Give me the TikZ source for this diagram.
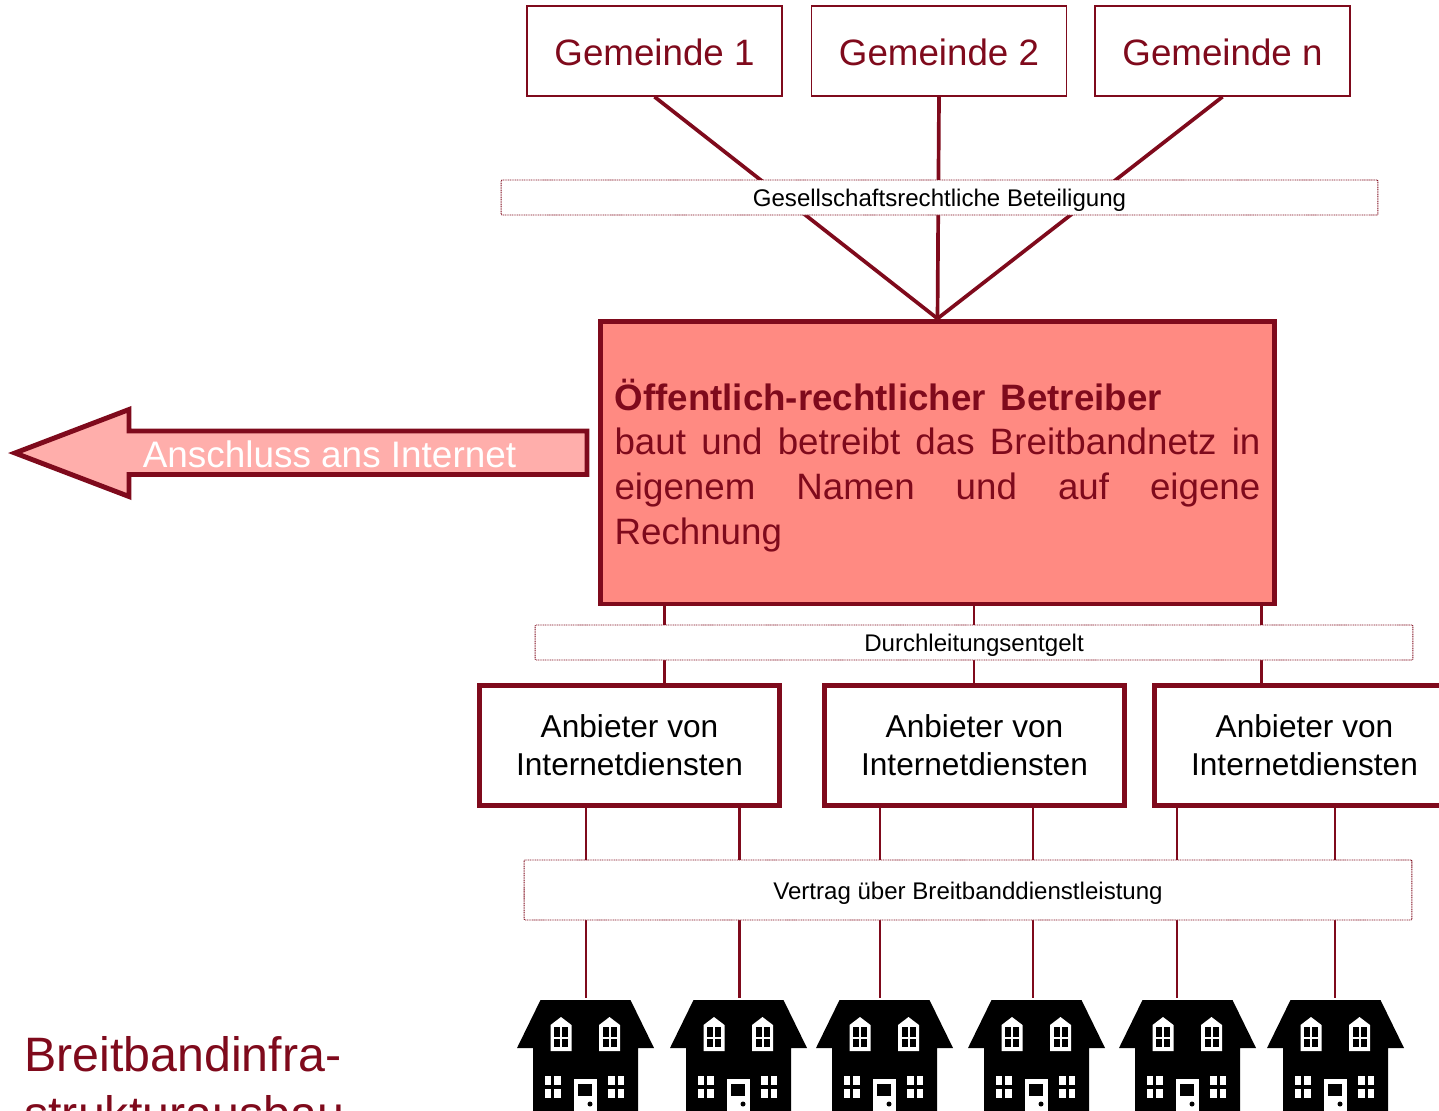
\documentclass[tikz,border=0pt]{standalone}
\usepackage{fontspec}
\setmainfont{Liberation Sans}
\definecolor{darkred}{HTML}{7F0A1C}
\definecolor{betreiberred}{HTML}{FF8A82}
\definecolor{arrowred}{HTML}{FFAEAB}
\tikzset{
    gemeinde/.style={draw=darkred, line width=0.9pt, fill=white, text=darkred, minimum width=5.1cm, minimum height=1.8cm, text height=16.6pt, text depth=0pt, font=\fontsize{20.9}{25}\selectfont},
    anbieter/.style={draw=darkred, line width=2.6pt, fill=white, minimum width=6cm, minimum height=2.4cm, align=center, execute at begin node={\rule{0pt}{14.3pt}}, font=\fontsize{18}{21.5}\selectfont},
    band/.style={draw=darkred, dash pattern=on 0.6pt off 0.4pt, line width=0.5pt, fill=white, rounded corners=0.5pt, inner ysep=0pt, text height=13.2pt, text depth=2.9pt, font=\fontsize{13.7}{16}\selectfont},
    link/.style={draw=darkred, line width=1.6pt},
    stem/.style={draw=darkred, line width=2.1pt},
    pics/house/.style={code={
        \fill[black] (-45,0) -- (45,0) -- (68.5,48) -- (52.5,48) -- (52.5,115) -- (-52.5,115) -- (-52.5,48) -- (-68.5,48) -- cycle;
        \coordinate (-top) at (0,-2);
        \foreach \dx in {-24.5,24} {
            \fill[white] (\dx-10.5,51) -- (\dx-10.5,25) -- (\dx,17) -- (\dx+10.5,25) -- (\dx+10.5,51) -- cycle;
            \fill[black] (\dx-7,27) rectangle (\dx-1,37);
            \fill[black] (\dx+1,27) rectangle (\dx+7,37);
            \fill[black] (\dx-7,39) rectangle (\dx-1,47);
            \fill[black] (\dx+1,39) rectangle (\dx+7,47);
        }
        \foreach \dx in {-33,30.5} {
            \fill[white] (\dx-8,76) rectangle (\dx-1.5,85);
            \fill[white] (\dx+1.5,76) rectangle (\dx+8,85);
            \fill[white] (\dx-8,89) rectangle (\dx-1.5,98);
            \fill[white] (\dx+1.5,89) rectangle (\dx+8,98);
        }
        \fill[white] (-12,79) rectangle (11,115);
        \fill[black] (-7.5,84) rectangle (6,96);
        \fill[black] (4.5,104) circle (2.5);
    }}
}
\begin{document}
\begin{tikzpicture}[x=0.02cm, y=-0.02cm]
    \clip (0,0) rectangle (1439,1110);

    \node[gemeinde] (g1) at (654.5,51) {Gemeinde 1};
    \node[gemeinde] (g2) at (939,51) {Gemeinde 2};
    \node[gemeinde] (gn) at (1222.5,51) {Gemeinde n};
    \node[draw=darkred, line width=2.8pt, fill=betreiberred, text=darkred, minimum width=13.5cm, minimum height=5.66cm, text width=12.92cm, inner xsep=0.29cm, align=justify, font=\fontsize{20.9}{25.4}\selectfont] (betreiber) at (937.5,462.5)
        {\sloppy\rule{0pt}{21pt}\textbf{Öffentlich-rechtlicher\hspace{0.4em}Betreiber}\\ baut und betreibt das Breitbandnetz in\linebreak eigenem Namen und auf eigene\linebreak Rechnung};

    \draw[stem] (g1.south) to (betreiber.north);
    \draw[stem] (g2.south) to (betreiber.north);
    \draw[stem] (gn.south) to (betreiber.north);
    \node[band, minimum width=17.54cm, minimum height=0.7cm] (beteiligung) at (939.5,197.5) {Gesellschaftsrechtliche Beteiligung};

    \node[anbieter] (a1) at (629.5,745.5) {Anbieter von\\Internetdiensten};
    \node[anbieter] (a2) at (974.5,745.5) {Anbieter von\\Internetdiensten};
    \node[anbieter] (a3) at (1304.5,745.5) {Anbieter von\\Internetdiensten};

    \coordinate (d1) at (664.5,605);
    \coordinate (d2) at (974,605);
    \coordinate (d3) at (1261.5,605);
    \draw[link] (d1) to (d1 |- a1.north);
    \draw[link] (d2) to (d2 |- a2.north);
    \draw[link] (d3) to (d3 |- a3.north);
    \node[band, minimum width=17.56cm, minimum height=0.7cm] (entgelt) at (974,642.5) {Durchleitungsentgelt};

    \pic (h1) at (585.5,1000) {house};
    \pic (h2) at (738.5,1000) {house};
    \pic (h3) at (884.5,1000) {house};
    \pic (h4) at (1036.5,1000) {house};
    \pic (h5) at (1187.5,1000) {house};
    \pic (h6) at (1335.5,1000) {house};

    \coordinate (l1) at (586,806);
    \coordinate (l2) at (739.5,806);
    \coordinate (l3) at (880,806);
    \coordinate (l4) at (1033,806);
    \coordinate (l5) at (1177,806);
    \coordinate (l6) at (1335,806);
    \draw[link] (l1) to (l1 |- h1-top);
    \draw[link] (l2) to (l2 |- h2-top);
    \draw[link] (l3) to (l3 |- h3-top);
    \draw[link] (l4) to (l4 |- h4-top);
    \draw[link] (l5) to (l5 |- h5-top);
    \draw[link] (l6) to (l6 |- h6-top);
    \node[band, minimum width=17.76cm, minimum height=1.2cm] (vertrag) at (968,890) {Vertrag über Breitbanddienstleistung};

    \draw[draw=darkred, line width=2.8pt, fill=arrowred, miter limit=10] (15,453) -- (129,409.5) -- (129,431) -- (587,431) -- (587,474.5) -- (129,474.5) -- (129,496.5) -- cycle;
    \node[text=white, font=\fontsize{21}{25}\selectfont] (internet) at (329.5,454) {Anschluss ans Internet};

    \node[anchor=north west, inner sep=0pt, text=darkred, align=left, font=\fontsize{27.5}{33.4}\selectfont] (titel) at (24,1036) {Breitbandinfra-\\strukturausbau};
\end{tikzpicture}
\end{document}
